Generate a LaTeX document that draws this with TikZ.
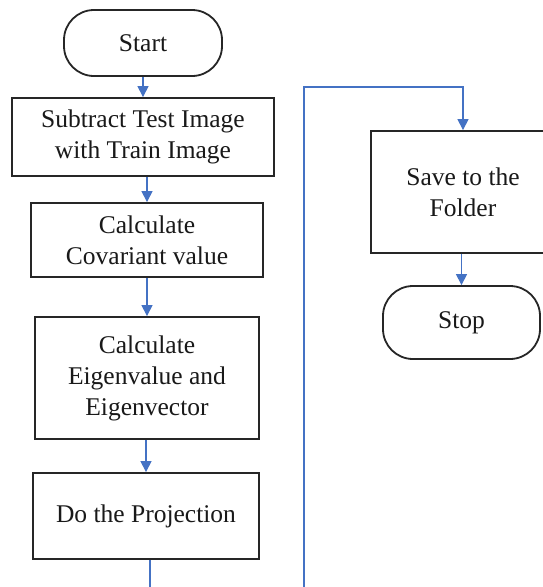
\documentclass[tikz,border=0pt]{standalone}
\usepackage{fontspec}
\setmainfont{Liberation Serif}
\usetikzlibrary{arrows.meta}
\definecolor{flowblue}{HTML}{4472C4}
\begin{document}
\begin{tikzpicture}[x=1pt,y=-1pt,
  box/.style={draw=black!85,line width=1.8pt,align=center,text=black!90,
    font=\fontsize{25.5}{31}\selectfont,inner sep=0pt},
  term/.style={box,rounded corners=30pt},
  arr/.style={draw=flowblue,line width=1.1pt,-{Triangle[length=11pt,width=11pt]}}]
\useasboundingbox (0,0) rectangle (543,587);
\clip (0,0) rectangle (543,587);
\fill[white] (0,0) rectangle (543,587);
\node[term,minimum width=158pt,minimum height=66pt] (start) at (143,43) {Start};
\node[box,minimum width=262pt,minimum height=78pt] (sub) at (143,137) {Subtract Test Image\\with Train Image};
\node[box,minimum width=232pt,minimum height=74pt] (cov) at (147,240) {Calculate\\Covariant value};
\node[box,minimum width=224pt,minimum height=122pt] (eig) at (147,378) {Calculate\\Eigenvalue and\\Eigenvector};
\node[box,minimum width=226pt,minimum height=86pt] (proj) at (146,516) {Do the Projection};
\node[box,minimum width=184pt,minimum height=122pt] (save) at (463,192) {Save to the\\Folder};
\node[term,minimum width=157pt,minimum height=73pt] (stop) at (461.5,322.5) {Stop};
\coordinate (lb) at (150,620);
\coordinate (rb) at (304,620);
\coordinate (rt) at (304,87);
\draw[arr] (start) -- (sub);
\draw[arr] (sub.south -| cov.north) -- (cov.north);
\draw[arr] (cov) -- (eig);
\draw[arr] (eig.south -| proj.north) -- (proj.north);
\draw[arr] (proj.south -| lb) -- (lb) -- (rb) -- (rt) -| (save.north);
\draw[arr] (save.south -| stop.north) -- (stop.north);
\end{tikzpicture}
\end{document}
